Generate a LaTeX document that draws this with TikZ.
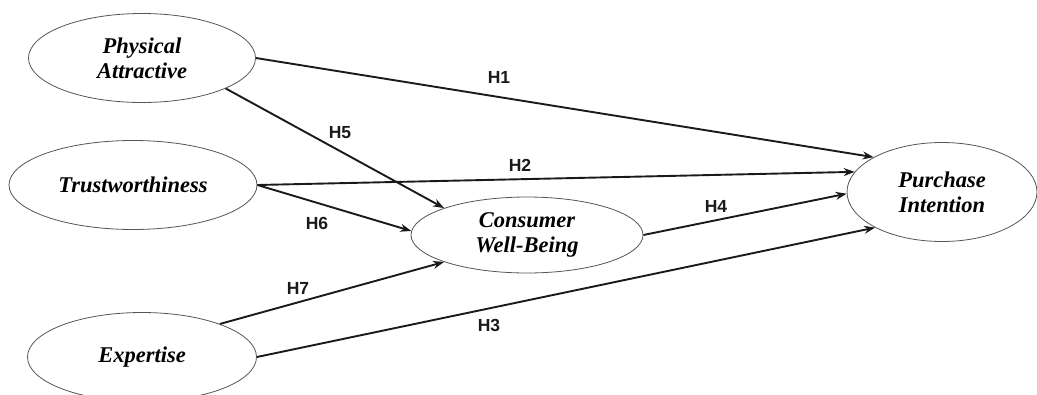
\documentclass[tikz,border=0pt]{standalone}
\usepackage{fontspec}
\setmainfont{Liberation Serif}
\setsansfont{Liberation Sans}
\usetikzlibrary{shapes.geometric, arrows.meta}
\definecolor{Ink}{HTML}{1A1A1A}
\definecolor{Rim}{HTML}{555555}
\tikzset{
  construct/.style={ellipse, draw=Rim, line width=0.8pt, fill=white,
    inner sep=0pt, align=center,
    font=\fontsize{22.5}{25}\selectfont\bfseries\itshape},
  path/.style={draw=Ink, line width=1.9pt,
    -{Stealth[length=11pt, width=8pt]}},
  hyp/.style={font=\sffamily\bfseries\fontsize{17.5}{20}\selectfont, text=Ink}
}

\begin{document}
\begin{tikzpicture}[x=1pt, y=-1pt]
\useasboundingbox (0,0) rectangle (1037,394);

% constructs
\node[construct, minimum width=227pt, minimum height=89pt] (pa) at (142,58) {Physical\\Attractive};
\node[construct, minimum width=248pt, minimum height=89pt] (tw) at (133,185) {Trustworthiness};
\node[construct, minimum width=229pt, minimum height=89pt] (ex) at (142,357) {Expertise};
\node[construct, minimum width=232pt, minimum height=76pt] (cwb) at (527,235) {Consumer\\Well-Being};
\node[construct, minimum width=190pt, minimum height=99pt] (pi) at (942,192) {Purchase\\Intention};

% hypothesised paths
\draw[path] (pa.east) -- (pi.153);
\draw[path] (pa.-20) -- (cwb.162);
\draw[path] (tw.east) -- (pi.167);
\draw[path] (tw.east) -- (cwb.178);
\draw[path] (cwb.east) -- (pi.181);
\draw[path] (ex.23) -- (cwb.198);
\draw[path] (ex.east) -- (pi.208);

% labels
\node[hyp] (h1) at (499,77) {H1};
\node[hyp] (h5) at (340,133) {H5};
\node[hyp] (h2) at (520,165) {H2};
\node[hyp] (h6) at (317,223) {H6};
\node[hyp] (h4) at (716,206) {H4};
\node[hyp] (h7) at (298,288) {H7};
\node[hyp] (h3) at (489,325) {H3};
\end{tikzpicture}
\end{document}
